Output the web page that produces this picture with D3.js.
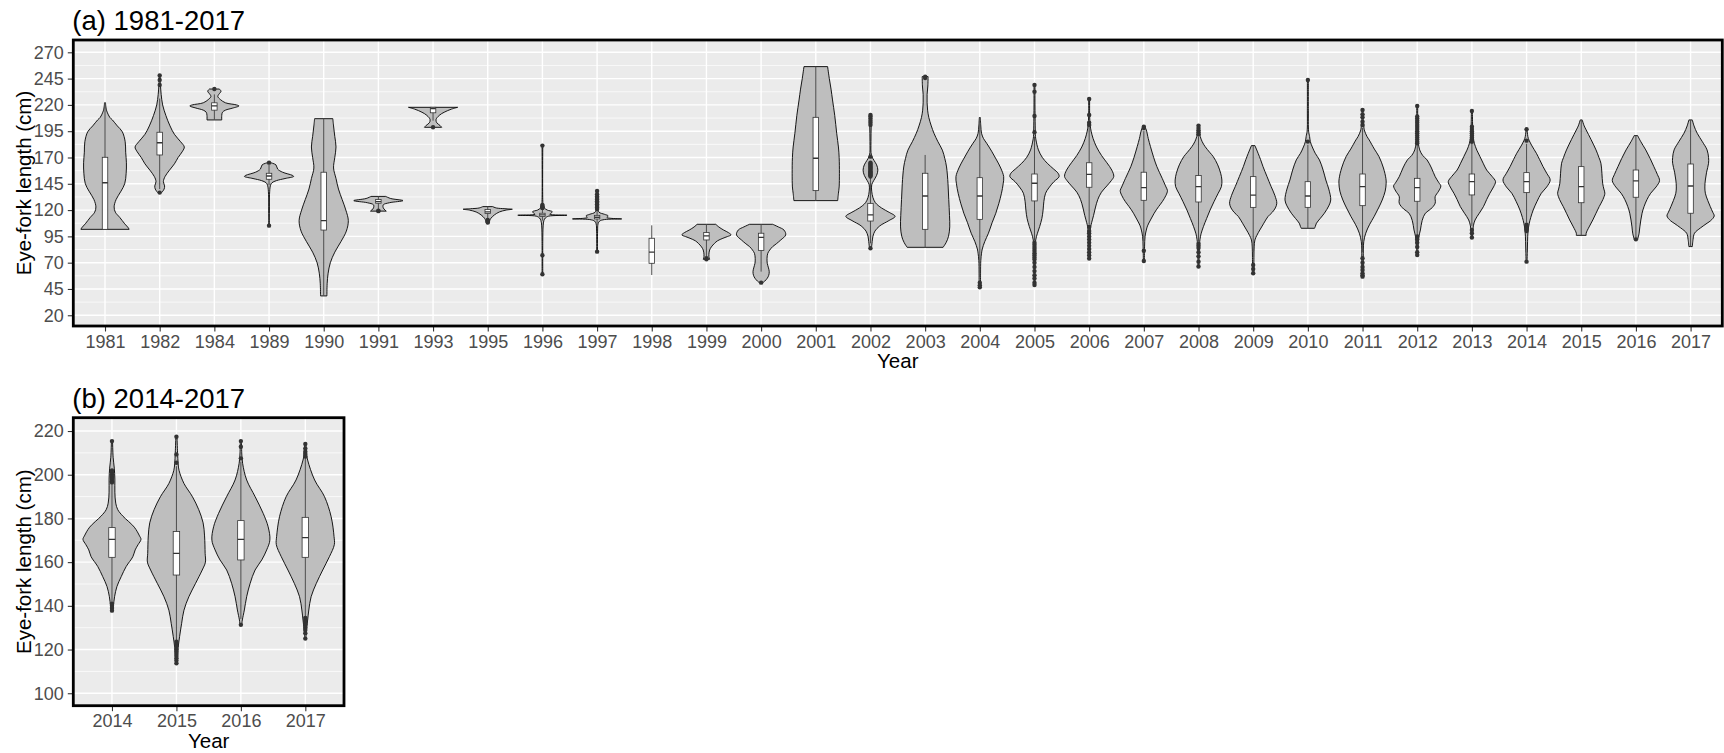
<!DOCTYPE html>
<html>
<head>
<meta charset="utf-8">
<script src="https://cdn.jsdelivr.net/npm/d3@7"></script>
<style>
body{margin:0;background:#fff;}
svg{display:block;font-family:Arial,"Liberation Sans",sans-serif;}
</style>
</head>
<body>
<div id="chart"></div>
<script>
// ---- panel (a) 1981-2017 ----
const yearsA = ['1981','1982','1984','1989','1990','1991','1993','1995','1996','1997','1998','1999','2000','2001','2002','2003','2004','2005','2006','2007','2008','2009','2010','2011','2012','2013','2014','2015','2016','2017'];

// violin outline per year: [length, relative half width]
const profilesA = [
  [[222,0.02],[215,0.06],[208,0.2],[205.7,0.3],[200,0.5],[194.6,0.7],[185,0.82],[175,0.84],[165,0.87],[155,0.86],[145,0.8],[138,0.65],[130,0.45],[123,0.37],[118,0.42],[113,0.6],[107,0.8],[103,0.95],[101.7,0.98]],
  [[248,0.02],[240,0.03],[230,0.06],[220,0.12],[210,0.25],[200,0.42],[192,0.6],[185,0.85],[180,1.0],[176,0.93],[170,0.75],[164,0.6],[158,0.4],[152,0.22],[147,0.15],[143,0.2],[140,0.18],[136.6,0.08]],
  [[235.1,0.2],[233,0.27],[230,0.18],[228,0.14],[225,0.25],[222,0.45],[220,0.9],[219,1.0],[217,0.75],[215,0.45],[213,0.33],[210,0.3],[205.7,0.3]],
  [[165.1,0.05],[163,0.28],[159,0.35],[156,0.55],[153,0.95],[152,1.0],[150,0.65],[148,0.3],[146,0.12],[143.6,0.06],[135,0.02],[120,0.015],[108,0.015],[105.2,0.04]],
  [[206.9,0.37],[200,0.4],[190,0.45],[180,0.5],[170,0.45],[160,0.4],[150,0.5],[140,0.6],[130,0.75],[120,0.9],[110,1.0],[100,0.92],[90,0.7],[80,0.45],[70,0.27],[60,0.18],[50,0.14],[38.4,0.13]],
  [[133,0.3],[131,0.5],[129,1.0],[127,0.45],[125,0.2],[122,0.2],[119,0.32]],
  [[217.7,1.0],[216,0.75],[213,0.45],[210,0.25],[206,0.12],[203,0.15],[200.5,0.28],[198.7,0.35]],
  [[123.3,0.2],[122,0.35],[121.3,0.7],[120.8,1.0],[120,0.75],[118.2,0.47],[115.4,0.27],[112.2,0.13],[110,0.08],[108,0.05]],
  [[181.3,0.015],[130,0.015],[125,0.03],[122,0.08],[120,0.2],[118.5,0.4],[117,0.35],[116,0.3],[115.1,1.0],[114.2,0.25],[112.5,0.12],[110,0.06],[105,0.03],[90,0.015],[59,0.015]],
  [[138.2,0.015],[130,0.02],[122,0.03],[118,0.08],[116,0.3],[114.5,0.45],[113,0.4],[112.2,0.55],[111.6,1.0],[111,0.3],[109.5,0.1],[107,0.04],[100,0.02],[80.5,0.015]],
  [],
  [[106.5,0.38],[104,0.5],[101,0.7],[98.5,0.9],[96.4,1.0],[94.8,0.85],[93.2,0.67],[90.8,0.45],[88.4,0.33],[85,0.2],[82,0.13],[78,0.1],[75.8,0.1],[73.2,0.13]],
  [[106.5,0.47],[104,0.7],[101,0.93],[96.4,1.0],[91.6,0.8],[88,0.62],[85.3,0.47],[82,0.35],[78.9,0.27],[74,0.24],[69.4,0.25],[65,0.3],[61.5,0.33],[58,0.31],[55.2,0.25],[52.5,0.15],[51,0.07]],
  [[256.4,0.48],[245,0.55],[235,0.62],[224.7,0.68],[210,0.77],[193,0.85],[180,0.92],[170,0.95],[155,0.96],[142,0.95],[136,0.92],[129,0.89]],
  [[210.4,0.03],[200,0.03],[185,0.02],[172,0.04],[167,0.15],[163,0.25],[158,0.3],[153,0.25],[148,0.13],[144,0.05],[138,0.05],[132,0.1],[127,0.2],[122,0.45],[118,0.75],[114,1.0],[110,0.75],[105,0.38],[100,0.18],[95,0.1],[90,0.07],[86,0.05],[83.7,0.03]],
  [[246.9,0.12],[238,0.11],[230,0.08],[222,0.08],[215,0.1],[208,0.15],[200,0.25],[193,0.36],[185,0.52],[177,0.7],[169,0.8],[161,0.87],[145,0.93],[130,0.96],[115,0.99],[104,1.0],[95,0.95],[89,0.85],[84.6,0.73]],
  [[208,0.02],[200,0.04],[193,0.07],[188,0.15],[183.5,0.28],[176,0.48],[167.7,0.68],[160,0.85],[151.8,0.97],[145,0.95],[136,0.88],[126,0.77],[117,0.65],[108,0.5],[98,0.35],[90,0.2],[83,0.1],[79,0.07],[72,0.04],[60,0.03],[46.6,0.03]],
  [[239,0.02],[220,0.02],[200,0.03],[190,0.04],[186.7,0.06],[177.2,0.16],[170,0.32],[164.5,0.52],[159,0.78],[155,0.96],[151.8,1.0],[147,0.79],[141,0.58],[136,0.45],[128,0.38],[120,0.35],[112,0.3],[104.3,0.21],[98,0.12],[91.6,0.05],[80,0.03],[60,0.02],[48.8,0.02]],
  [[225.6,0.02],[210,0.02],[200.9,0.04],[195,0.08],[188,0.16],[180,0.3],[172,0.5],[165,0.72],[158,0.92],[152,1.0],[148,0.9],[143,0.72],[137,0.5],[130,0.35],[122,0.25],[115,0.18],[108,0.1],[104,0.06],[95,0.03],[74,0.02]],
  [[199.3,0.04],[196.2,0.1],[188,0.18],[180.3,0.27],[170,0.4],[161.3,0.53],[150,0.75],[142,0.9],[138.5,0.96],[134,0.9],[128,0.75],[123.3,0.6],[117,0.42],[110.6,0.27],[105,0.15],[101,0.1],[95,0.05],[85,0.03],[71.6,0.02]],
  [[200.3,0.03],[195,0.04],[190,0.07],[185,0.15],[180.3,0.27],[175,0.45],[170.8,0.6],[163,0.78],[155,0.9],[148.6,0.95],[142.3,0.93],[136,0.8],[128,0.63],[120,0.47],[112,0.33],[104.3,0.2],[98,0.11],[94.8,0.08],[88,0.04],[66.3,0.02]],
  [[181.3,0.07],[178,0.13],[174,0.2],[168,0.3],[161.3,0.4],[152,0.56],[142.3,0.73],[134,0.88],[126.5,0.96],[122,0.9],[118,0.78],[113.8,0.6],[107,0.42],[101.1,0.27],[96,0.15],[91.6,0.07],[85,0.04],[75,0.03],[60,0.03]],
  [[243.7,0.02],[215,0.02],[195,0.03],[190,0.07],[185.1,0.1],[180,0.18],[174,0.3],[167.7,0.47],[158,0.62],[148.6,0.73],[140,0.85],[129.6,0.93],[124,0.85],[117,0.67],[112,0.5],[107.5,0.35],[104.3,0.3],[102.7,0.27]],
  [[215.2,0.02],[205,0.03],[200,0.05],[196.2,0.07],[190,0.18],[186.7,0.27],[178,0.48],[170.8,0.67],[160,0.85],[150,0.95],[145.5,0.96],[138,0.92],[129.6,0.8],[122,0.65],[113.8,0.47],[106,0.28],[98,0.13],[90,0.05],[75,0.03],[56.7,0.03]],
  [[219,0.02],[200,0.02],[185,0.04],[177.2,0.1],[172,0.22],[167.7,0.4],[160,0.58],[151.8,0.73],[146,0.88],[142.9,0.96],[138,0.87],[132.8,0.73],[126.5,0.73],[121,0.55],[117,0.33],[110,0.2],[101.1,0.13],[95,0.07],[85,0.03],[77.3,0.02]],
  [[214.2,0.02],[200,0.03],[190,0.05],[183.5,0.1],[177,0.2],[170.8,0.33],[164,0.47],[158.1,0.6],[152,0.82],[147.1,0.96],[142,0.88],[136,0.73],[130,0.6],[123.3,0.47],[117,0.3],[110.6,0.13],[105,0.06],[98,0.03],[94,0.02]],
  [[196.8,0.02],[192,0.04],[188.2,0.07],[181,0.22],[174,0.4],[168,0.53],[161.3,0.67],[155,0.82],[148.6,0.96],[142,0.82],[136,0.6],[128,0.42],[120.1,0.27],[113,0.17],[107.5,0.11],[100,0.06],[90,0.04],[80,0.03],[71,0.02]],
  [[205.7,0.04],[200,0.12],[196.2,0.2],[187,0.4],[177.2,0.6],[170,0.72],[164.5,0.8],[155,0.84],[145.5,0.87],[140,0.92],[136,0.96],[130,0.88],[123.3,0.73],[117,0.6],[110.6,0.47],[104,0.32],[98,0.2],[96,0.2]],
  [[190.8,0.07],[185,0.2],[177.2,0.4],[169,0.58],[161.3,0.73],[154,0.87],[148,0.96],[142,0.82],[136,0.6],[130,0.45],[123.3,0.33],[117,0.25],[110.6,0.2],[104,0.16],[98,0.13],[92.2,0.07]],
  [[205.7,0.07],[200,0.14],[193,0.27],[185,0.48],[177.2,0.67],[170,0.73],[164.5,0.73],[156,0.65],[148.6,0.6],[142,0.58],[136,0.6],[129,0.7],[123.3,0.8],[118,0.9],[114.4,0.96],[110,0.82],[107.5,0.67],[103,0.4],[98,0.16],[92,0.1],[85.3,0.07]]
];

const q1A  = [101.7,172.4,215,149.3,101,126.5,212.5,116.8,114,111.6,69.4,91.6,81.5,138.5,109.6,101.7,111.2,128.7,141.7,129.3,127.7,122.6,122.6,124.2,128.4,134.4,136.6,127,132.2,117];
const medA = [146,184,219,152.4,110,128,216.5,118.3,115.4,113.2,80,95.4,94.1,169.3,115.4,133.4,133.4,145.5,154,141.4,142.3,134.3,133.4,142.3,141.4,147.1,147.1,142.3,147.7,142.9];
const q3A  = [170.2,194,222,155,156,130,217.7,120.6,117,115,93.2,98.6,98,208.2,126.4,155,150.8,154.3,165,156,152.8,151.8,147,154.3,150.2,154.3,155.6,161.3,158.1,163.8];
const wloA = [101.7,140,205.7,143.6,38.4,121,205,112,110,107,58.3,76,61.5,129,88.4,84.6,56,91,106,90,90,80,102.7,80,96,105,108,96,93.5,85.3];
const whiA = [222,226,230,163,207,133,217.7,123.3,121,120,105.5,106.5,106.5,256.4,150.5,172.4,208,190,199,195,190,181.3,182,198,182,183,183,205.7,190.8,205.7];

const outliersA = [
  [],
  [248,243.7,239,136.6],
  [235.1],
  [165.1,105.2],
  [],
  [119.5,119],
  [198.7],
  [110.6,110,109.3,108.7,108.1],
  [181.3,125,124,123,122.5,122,77,59],
  [138.2,135,133,131.5,130,128.5,127,125.5,124,122.5,121,80.5],
  [],
  [74.2,73.2],
  [51],
  [],
  [210.4,209,207,205,203,201,170.8,165,164,163,162,161,160,159,158,157,156,155,154,153,152,83.7],
  [246.9,245.5],
  [51,48.5,46.6],
  [239,232.6,209.5,194,89,87,85,83,81,79,77,75,73,70,66,62,58,55,51,48.8],
  [225.6,210.4,203,201,104,100,98,95,92,89,86,83,80,77,74],
  [199.3,198,81.4,71.6],
  [200.3,198,196,194,192,88,86,84,80,76,71,66.3],
  [67.8,64,60],
  [243.7,185.1],
  [215.2,211,208.2,204,200.9,74.2,70,66,63,60,58,56.7],
  [219,209,207,205,203,201,199,197,195,193,191,189,187,185,183.5,95,92,89,85,80,77.3],
  [214.2,199.3,197,195,193,191,189,187,185,101,98,94],
  [196.8,186,106,104.5,103,101.5,100,71],
  [],
  [92.2],
  []
];

const yTicksA = [20,45,70,95,120,145,170,195,220,245,270];

// ---- panel (b) 2014-2017 ----
const yearsB = ['2014','2015','2016','2017'];
const profilesB = [
  [[215.4,0.02],[208,0.04],[203,0.08],[198,0.1],[192,0.1],[187,0.13],[184,0.2],[181,0.38],[176,0.77],[172,0.95],[170.4,1.0],[168,0.9],[165.6,0.8],[162.5,0.72],[158,0.49],[153.4,0.32],[148.8,0.17],[144.2,0.09],[140,0.05],[137.8,0.03]],
  [[217.4,0.02],[210,0.04],[205,0.06],[202,0.09],[196,0.26],[190,0.55],[184,0.77],[178,0.92],[172,0.97],[164,0.99],[160,1.0],[156.4,0.89],[150.3,0.66],[144.2,0.43],[138,0.26],[132,0.18],[126,0.11],[121,0.06],[116,0.03],[113.7,0.02]],
  [[215.4,0.02],[210,0.03],[205.2,0.06],[197.6,0.2],[190,0.49],[182.3,0.77],[176.2,0.94],[170.1,1.0],[165.6,0.89],[161,0.72],[156.4,0.49],[150.3,0.32],[144.2,0.2],[138.1,0.12],[133.5,0.05],[131.3,0.03]],
  [[214.1,0.02],[210,0.04],[206.7,0.08],[197.6,0.32],[190,0.66],[180.8,0.89],[171.7,0.99],[168,1.0],[162.5,0.83],[156.4,0.6],[150.3,0.38],[144.2,0.2],[138.1,0.12],[133.5,0.08],[129,0.04],[125,0.02]]
];
const q1B  = [162.2,154.1,161,162.2];
const medB = [170.4,164,170.4,171.2];
const q3B  = [175.8,174,179,180.5];
const wloB = [141.8,124.2,134,134.8];
const whiB = [196,203.9,206,208];
const outliersB = [
  [215.4,202,201,200,199,198,197,196.5,141,140,139,137.8],
  [217.4,209.3,205.5,123.6,122.5,121.5,120,119,118,117,116,115,113.7],
  [215.4,212.8,207.5,131.3],
  [214.1,212,210.5,209.5,208.3,134.5,133.5,132.8,131.5,130,129,127.5,125]
];
const yTicksB = [100,120,140,160,180,200,220];

const W = 1724, H = 753;
const svg = d3.select('#chart').append('svg').attr('width', W).attr('height', H);
svg.append('rect').attr('width', W).attr('height', H).attr('fill', '#fff');

class ViolinPanel{
  constructor({id, frame, title, years, profiles, q1, med, q3, wlo, whi, outliers, yDomain, yTicks, minorTicks, pad}){
    this.id = id;
    this.f = frame;
    this.title = title;
    this.years = years;
    this.profiles = profiles;
    this.q1 = q1; this.med = med; this.q3 = q3; this.wlo = wlo; this.whi = whi;
    this.outliers = outliers;
    this.yTicks = yTicks;
    this.minorTicks = minorTicks;
    this.x = d3.scalePoint().domain(years).range([frame.l, frame.r]).padding(pad);
    this.y = d3.scaleLinear().domain(yDomain).range([frame.b, frame.t]);
    this.w = d3.scaleLinear().domain([0, 1]).range([0, 0.45 * this.x.step()]);
    this.g = svg.append('g');
  }

  _background(){
    const f = this.f;
    this.g.append('clipPath').attr('id', 'clip-' + this.id)
      .append('rect').attr('x', f.l).attr('y', f.t).attr('width', f.r - f.l).attr('height', f.b - f.t);
    this.g.append('rect').attr('x', f.l).attr('y', f.t).attr('width', f.r - f.l).attr('height', f.b - f.t)
      .attr('fill', '#EBEBEB');
    this.g.append('g').selectAll('line').data(this.minorTicks).join('line')
      .attr('x1', f.l).attr('x2', f.r).attr('y1', d => this.y(d)).attr('y2', d => this.y(d))
      .attr('stroke', '#fff').attr('stroke-width', 0.7);
    this.g.append('g').selectAll('line').data(this.yTicks).join('line')
      .attr('x1', f.l).attr('x2', f.r).attr('y1', d => this.y(d)).attr('y2', d => this.y(d))
      .attr('stroke', '#fff').attr('stroke-width', 1.4);
    this.g.append('g').selectAll('line').data(this.years).join('line')
      .attr('x1', d => this.x(d)).attr('x2', d => this.x(d)).attr('y1', f.t).attr('y2', f.b)
      .attr('stroke', '#fff').attr('stroke-width', 1.4);
  }

  _violins(){
    const inner = this.g.append('g').attr('clip-path', `url(#clip-${this.id})`);
    const area = d3.area().curve(d3.curveCatmullRom.alpha(0.5));
    const yrs = this.years;

    inner.append('g').selectAll('path').data(this.profiles.map((p, i) => ({p, i})).filter(d => d.p.length))
      .join('path')
      .attr('d', d => {
        const cx = this.x(yrs[d.i]);
        return area.y(e => this.y(e[0])).x0(e => cx - this.w(e[1])).x1(e => cx + this.w(e[1]))(d.p);
      })
      .attr('fill', '#BEBEBE').attr('stroke', '#000').attr('stroke-width', 0.9);

    const bw = 0.1 * this.x.step();
    const boxes = inner.append('g').selectAll('g').data(yrs).join('g');
    boxes.append('line')
      .attr('x1', d => this.x(d)).attr('x2', d => this.x(d))
      .attr('y1', (d, i) => this.y(this.whi[i])).attr('y2', (d, i) => this.y(this.wlo[i]))
      .attr('stroke', '#4d4d4d').attr('stroke-width', 1);
    boxes.append('rect')
      .attr('x', d => this.x(d) - bw / 2).attr('width', bw)
      .attr('y', (d, i) => this.y(this.q3[i]))
      .attr('height', (d, i) => Math.max(0.5, this.y(this.q1[i]) - this.y(this.q3[i])))
      .attr('fill', '#fff').attr('stroke', '#333').attr('stroke-width', 0.8);
    boxes.append('line')
      .attr('x1', d => this.x(d) - bw / 2).attr('x2', d => this.x(d) + bw / 2)
      .attr('y1', (d, i) => this.y(this.med[i])).attr('y2', (d, i) => this.y(this.med[i]))
      .attr('stroke', '#333').attr('stroke-width', 1.3);

    const pts = [];
    this.outliers.forEach((arr, i) => arr.forEach(v => pts.push({year: yrs[i], v})));
    inner.append('g').selectAll('circle').data(pts).join('circle')
      .attr('cx', d => this.x(d.year)).attr('cy', d => this.y(d.v)).attr('r', 2.2)
      .attr('fill', '#333');
  }

  _axes(){
    const f = this.f;
    const yAxis = this.g.append('g').attr('transform', `translate(${f.l},0)`)
      .call(d3.axisLeft(this.y).tickValues(this.yTicks).tickSize(5.5).tickPadding(4));
    const xAxis = this.g.append('g').attr('transform', `translate(0,${f.b})`)
      .call(d3.axisBottom(this.x).tickSize(5.5).tickPadding(3.5));
    [yAxis, xAxis].forEach(a => {
      a.select('.domain').remove();
      a.selectAll('.tick line').attr('stroke', '#333').attr('stroke-width', 1.1);
      a.selectAll('.tick text').attr('fill', '#4D4D4D').attr('font-size', 18)
        .attr('font-family', 'Arial, "Liberation Sans", sans-serif');
    });

    this.g.append('rect').attr('x', f.l).attr('y', f.t).attr('width', f.r - f.l).attr('height', f.b - f.t)
      .attr('fill', 'none').attr('stroke', '#000').attr('stroke-width', 2.8);

    this.g.append('text').attr('x', (f.l + f.r) / 2).attr('y', f.b + 42)
      .attr('text-anchor', 'middle').attr('font-size', 20.5).attr('fill', '#000').text('Year');
    this.g.append('text')
      .attr('transform', `translate(31,${(f.t + f.b) / 2}) rotate(-90)`)
      .attr('text-anchor', 'middle').attr('font-size', 20.5).attr('fill', '#000')
      .text('Eye-fork length (cm)');
    this.g.append('text').attr('x', f.l - 1).attr('y', f.t - 10)
      .attr('font-size', 27.5).attr('fill', '#000').text(this.title);
  }

  render(){
    this._background();
    this._violins();
    this._axes();
  }
}

const minorA = yTicksA.slice(0, -1).map(d => d + 12.5);
const minorB = yTicksB.slice(0, -1).map(d => d + 10);

new ViolinPanel({
  id: 'a', frame: {l: 73.3, r: 1722.3, t: 40, b: 326}, title: '(a) 1981-2017',
  years: yearsA, profiles: profilesA, q1: q1A, med: medA, q3: q3A, wlo: wloA, whi: whiA,
  outliers: outliersA, yDomain: [9.8, 281.7], yTicks: yTicksA, minorTicks: minorA, pad: 0.58
}).render();

new ViolinPanel({
  id: 'b', frame: {l: 73.3, r: 344, t: 417.7, b: 705.7}, title: '(b) 2014-2017',
  years: yearsB, profiles: profilesB, q1: q1B, med: medB, q3: q3B, wlo: wloB, whi: whiB,
  outliers: outliersB, yDomain: [94.3, 226.1], yTicks: yTicksB, minorTicks: minorB, pad: 0.6
}).render();
</script>
</body>
</html>
